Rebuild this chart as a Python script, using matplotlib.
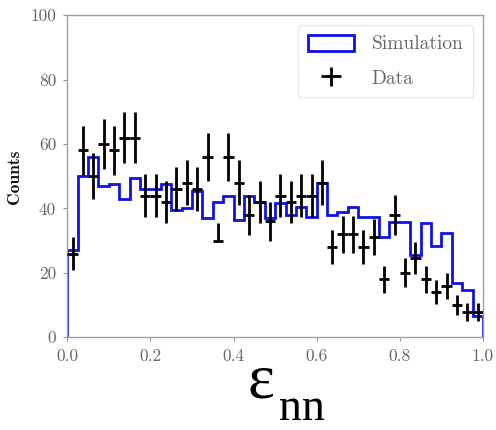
import numpy as np
import matplotlib
matplotlib.use("Agg")
import matplotlib.pyplot as plt

# ---- data (40 bins over [0, 1]) ----
n_bins = 40
x_min, x_max = 0.0, 1.0

sim_counts = [27, 50, 56, 47, 47.5, 43, 49.5, 46, 46, 47.5,
              39.5, 40, 45.5, 37, 42, 44, 36.5, 44, 42, 37,
              41.6, 38, 40.6, 37.3, 48, 38, 39, 40.5, 37.3, 37.5,
              31, 35.8, 35.8, 25.6, 35.4, 28.4, 32.3, 16.8, 14.7, 6.5]

data_counts = [26, 58, 50, 60, 58, 62, 62, 44, 44, 42,
               46, 48, 46, 56, 30, 56, 48, 38, 42, 36,
               44, 42, 44, 44, 48, 28, 32, 32, 28, 31,
               18, 38, 20, 24.5, 18, 14, 16, 10, 8, 8]

data_err_hi = [5.1, 7.6, 7.1, 7.7, 7.6, 7.9, 7.9, 6.6, 6.6, 6.5,
               6.8, 6.9, 6.8, 7.5, 5.5, 7.5, 6.9, 6.2, 6.5, 6.0,
               6.6, 6.5, 6.6, 6.6, 6.9, 5.3, 5.7, 5.7, 5.3, 5.6,
               4.2, 6.2, 4.5, 5.0, 4.2, 3.7, 4.0, 3.2, 2.8, 2.8]

data_err_lo = [5.1, 7.6, 7.1, 7.7, 7.6, 7.9, 7.9, 6.6, 6.6, 6.5,
               6.8, 6.9, 6.8, 7.5, 0.0, 7.5, 6.9, 6.2, 6.5, 6.0,
               6.6, 6.5, 6.6, 6.6, 6.9, 5.3, 5.7, 5.7, 5.3, 5.6,
               4.2, 6.2, 4.5, 5.0, 4.2, 3.7, 4.0, 3.2, 2.8, 2.8]

x_ticks = [0.0, 0.2, 0.4, 0.6, 0.8, 1.0]
y_ticks = [0, 20, 40, 60, 80, 100]

edges = np.linspace(x_min, x_max, n_bins + 1)
centers = 0.5 * (edges[:-1] + edges[1:])
half_w = 0.5 * (edges[1] - edges[0])

# ---- figure ----
fig = plt.figure(figsize=(4.96, 4.30), dpi=100)
ax = fig.add_axes([0.1357, 0.2156, 0.838, 0.749])

ax.hist(centers, bins=edges, weights=sim_counts, histtype="step",
        color="#1010e8", lw=2.0, label="Simulation", zorder=2)
ax.errorbar(centers, data_counts, xerr=half_w,
            yerr=[data_err_lo, data_err_hi], fmt="none",
            ecolor="black", elinewidth=2.0, capsize=0, label="Data", zorder=3)

ax.set_xlim(x_min, x_max)
ax.set_ylim(0, 100)
ax.set_xticks(x_ticks)
ax.set_yticks(y_ticks)
ax.set_xticklabels([f"{t:.1f}" for t in x_ticks])
ax.set_yticklabels([str(t) for t in y_ticks])

tick_color = "#666666"
for lab in ax.get_xticklabels() + ax.get_yticklabels():
    lab.set_fontfamily("cmr10")
    lab.set_fontsize(12.5)
    lab.set_color(tick_color)
ax.tick_params(axis="both", direction="out", length=3, width=0.8,
               color="#999999", pad=5)
for sp in ax.spines.values():
    sp.set_color("#a0a0a0")
    sp.set_linewidth(1.0)

ax.set_ylabel("Counts", family="cmb10", fontsize=12.5, color="#111111",
              labelpad=6)

leg = ax.legend(loc="upper right", prop={"family": "cmr10", "size": 14},
                handlelength=2.4, handleheight=0.9, handletextpad=0.9,
                borderpad=0.5, labelspacing=0.8, borderaxespad=0.5,
                frameon=True, fancybox=True)
leg.get_frame().set_edgecolor("#e4e4e4")
leg.get_frame().set_linewidth(1.0)
for t in leg.get_texts():
    t.set_color("#666666")

# big x label added below the axes
fig.text(248 / 496, 1 - 398 / 430, "\u03b5", family="Liberation Serif",
         fontsize=46, va="baseline", ha="left", color="black")
fig.text(279 / 496, 1 - 420 / 430, "nn", family="Liberation Serif",
         fontsize=33, va="baseline", ha="left", color="black")

fig.savefig("out.png", dpi=100)
